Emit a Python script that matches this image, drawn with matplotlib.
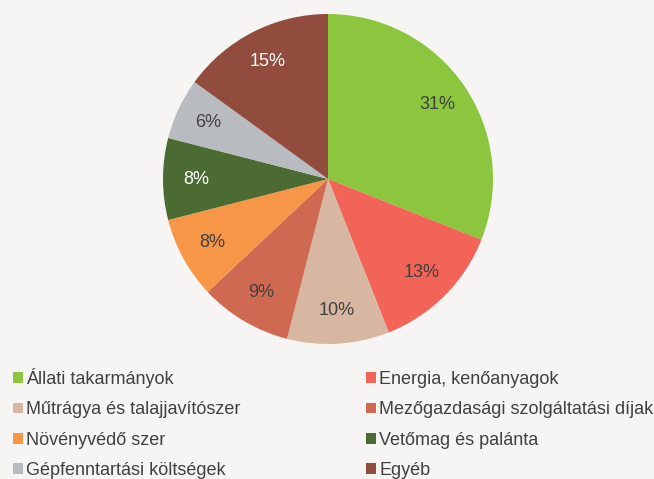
import numpy as np
import matplotlib
matplotlib.use('Agg')
import matplotlib.pyplot as plt

plt.rcParams['font.family'] = ['Liberation Sans', 'DejaVu Sans']

# data
labels = ['Állati takarmányok', 'Energia, kenőanyagok', 'Műtrágya és talajjavítószer',
          'Mezőgazdasági szolgáltatási díjak', 'Növényvédő szer', 'Vetőmag és palánta',
          'Gépfenntartási költségek', 'Egyéb']
shares = [31, 13, 10, 9, 8, 8, 6, 15]
colors = ['#8cc63f', '#f26358', '#d7b7a2', '#cf6952', '#f79646', '#4b6b32', '#b8bcc0', '#914c3e']
text_colors = ['#404040', '#404040', '#404040', '#404040', '#404040', 'white', '#404040', 'white']

bg = '#f7f5f3'
W, H = 654, 479
fig = plt.figure(figsize=(W / 100, H / 100), dpi=100, facecolor=bg)

cx, cy, r = 328, 179, 165
ax = fig.add_axes([(cx - r) / W, (H - cy - r) / H, 2 * r / W, 2 * r / H])
ax.set_facecolor(bg)

wedges, texts, autotexts = ax.pie(shares, colors=colors, startangle=90, counterclock=False,
                                  autopct='%d%%', pctdistance=0.8, radius=1,
                                  textprops={'fontsize': 13})
for t, c in zip(autotexts, text_colors):
    t.set_color(c)
ax.set_xlim(-1, 1)
ax.set_ylim(-1, 1)
ax.set_aspect('equal')
ax.axis('off')

# legend is row-major in the reference, matplotlib fills columns first
order = [0, 2, 4, 6, 1, 3, 5, 7]
leg = fig.legend([wedges[i] for i in order], [labels[i] for i in order],
                 ncol=2, loc='upper left', bbox_to_anchor=(13 / W, 1 - 368 / H),
                 frameon=False, fontsize=13, handlelength=0.55, handleheight=0.55,
                 handletextpad=0.15, columnspacing=7.0, labelspacing=0.74,
                 borderaxespad=0, borderpad=0)
for t in leg.get_texts():
    t.set_color('#404040')

fig.savefig('out.png', dpi=100, facecolor=bg)
